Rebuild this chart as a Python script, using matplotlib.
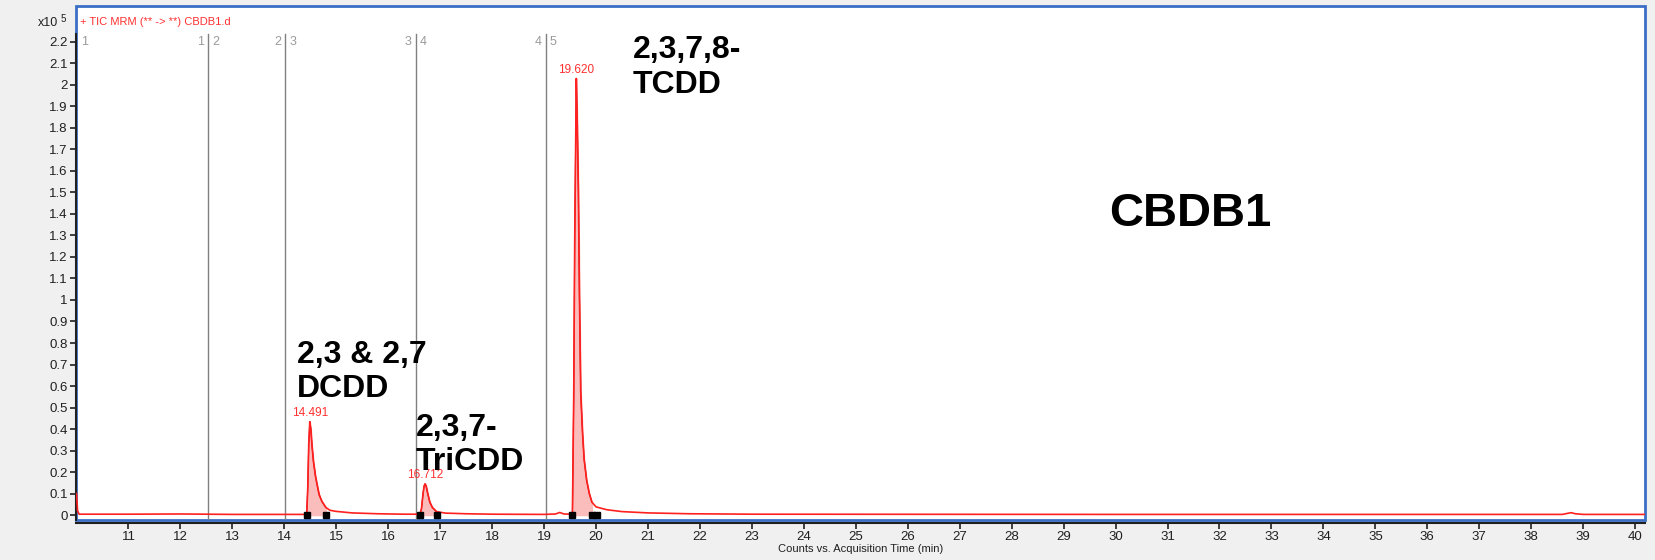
import numpy as np
import matplotlib
matplotlib.use("Agg")
import matplotlib.pyplot as plt
from matplotlib.patches import Rectangle

plt.rcParams['font.family'] = ['Liberation Sans', 'DejaVu Sans']

# chromatogram (time in min, counts x10^5)
time = [10.00, 10.02, 10.05, 11.0, 12.0, 12.5, 13.0, 14.0, 14.41,
        14.43, 14.45, 14.47, 14.49, 14.51, 14.53, 14.56, 14.60, 14.64, 14.67,
        14.72, 14.80, 14.88, 15.0, 15.3, 15.8, 16.3, 16.61,
        16.64, 16.67, 16.69, 16.71, 16.73, 16.76, 16.80, 16.85, 16.93,
        17.1, 17.5, 18.0, 19.0, 19.22, 19.30, 19.38, 19.545,
        19.57, 19.59, 19.62, 19.64, 19.66, 19.68, 19.705, 19.74, 19.77,
        19.82, 19.87, 19.92, 20.0, 20.2, 20.5, 21.0, 21.8, 23.0, 30.0,
        38.6, 38.70, 38.77, 38.85, 39.0, 40.2]
counts = [0.10, 0.02, 0.004, 0.004, 0.005, 0.004, 0.003, 0.003, 0.003,
          0.004, 0.12, 0.33, 0.434, 0.40, 0.33, 0.25, 0.18, 0.13, 0.095,
          0.065, 0.035, 0.022, 0.017, 0.010, 0.006, 0.004, 0.004,
          0.03, 0.10, 0.135, 0.145, 0.135, 0.10, 0.06, 0.035, 0.016,
          0.009, 0.006, 0.004, 0.003, 0.005, 0.012, 0.005, 0.004,
          0.55, 1.30, 2.03, 1.80, 1.50, 1.03, 0.57, 0.38, 0.26,
          0.16, 0.10, 0.06, 0.038, 0.025, 0.016, 0.010, 0.006, 0.004, 0.003,
          0.003, 0.008, 0.011, 0.006, 0.003, 0.003]

# integrated peaks
peak_rt = [14.491, 16.712, 19.620]
peak_height = [0.434, 0.145, 2.03]
int_start = [14.43, 16.61, 19.545]
int_end = [14.80, 16.93, 19.92]
end_marks = [[14.80], [16.93], [19.92, 20.02]]

# MRM segment boundaries
segments = [10.0, 12.53, 14.02, 16.53, 19.03, 40.2]

compounds = ["2,3 & 2,7\nDCDD", "2,3,7-\nTriCDD", "2,3,7,8-\nTCDD"]
compound_pos = [(14.24, 0.815), (16.53, 0.475), (20.71, 2.23)]

xticks = list(range(11, 41))
yticks = [round(0.1 * i, 1) for i in range(23)]

t = np.array(time)
c = np.array(counts)

fig = plt.figure(figsize=(16.55, 5.6), dpi=100, facecolor='#f0f0f0')
ax = fig.add_axes([76 / 1655, 40 / 560, 1569 / 1655, 514 / 560])
ax.set_facecolor('white')
ax.set_xlim(9.99, 40.19)
ax.set_ylim(-0.023, 2.367)

# segment lines and numbers
for b in segments[1:-1]:
    ax.plot([b, b], [-0.023, 2.235], color='#808080', lw=1, zorder=1)
for i in range(len(segments) - 1):
    ax.annotate(str(i + 1), (segments[i], 2.2), xytext=(3, 0), textcoords='offset points',
                ha='left', va='center', color='#9a9a9a', fontsize=9)
    ax.annotate(str(i + 1), (segments[i + 1], 2.2), xytext=(-3, 0), textcoords='offset points',
                ha='right', va='center', color='#9a9a9a', fontsize=9)

# filled peaks
for s, e in zip(int_start, int_end):
    m = (t >= s) & (t <= e)
    ax.fill_between(t[m], c[m], 0, color='#fbbcbc', zorder=2)
    ax.plot(t[m], c[m], color='#b00000', lw=0.8, zorder=3)

ax.plot(t, c, color='#ff2020', lw=1.2, zorder=4)

for s, ends in zip(int_start, end_marks):
    ax.plot([s] + ends, [0] * (1 + len(ends)), 's', color='black', ms=5, zorder=5)

for rt, h in zip(peak_rt, peak_height):
    ax.annotate(f"{rt:.3f}", (rt, h), xytext=(0, 2), textcoords='offset points',
                ha='center', va='bottom', color='#ff3030', fontsize=8.5)

for txt, (x, y) in zip(compounds, compound_pos):
    ax.text(x, y, txt, ha='left', va='top', fontsize=23, fontweight='bold',
            linespacing=1.2, zorder=6)
ax.text(31.43, 1.40, "CBDB1", ha='center', va='center', fontsize=34, fontweight='bold')

ax.text(0.0025, 0.969, "+ TIC MRM (** -> **) CBDB1.d", transform=ax.transAxes,
        ha='left', va='center', color='#ff3030', fontsize=8)

# axes styling
for s in ['top', 'right']:
    ax.spines[s].set_visible(False)
ax.spines['left'].set_color('#202020')
ax.spines['left'].set_linewidth(1.5)
ax.spines['left'].set_bounds(-0.023, 2.235)
ax.spines['bottom'].set_color('#202020')
ax.spines['bottom'].set_linewidth(1.5)
ax.spines['bottom'].set_position(('outward', 2))
ax.add_patch(Rectangle((0, 0), 1, 1, transform=ax.transAxes, fill=False,
                       edgecolor='#3b6fc6', lw=2, clip_on=False, zorder=0.5))

ax.set_xticks(xticks)
ax.set_yticks(yticks)
ax.set_yticklabels([f"{v:g}" for v in yticks])
ax.tick_params(axis='both', labelsize=9.5, colors='#202020', length=4, width=1.2, pad=2)
ax.set_xlabel("Counts vs. Acquisition Time (min)", fontsize=8, labelpad=1, color='#202020')

fig.text(58 / 1655, 1 - 22.5 / 560, "x10", ha='right', va='center', fontsize=9, color='#202020')
fig.text(61 / 1655, 1 - 19 / 560, "5", ha='left', va='center', fontsize=7, color='#202020')

fig.savefig("out.png", dpi=100, facecolor=fig.get_facecolor())
